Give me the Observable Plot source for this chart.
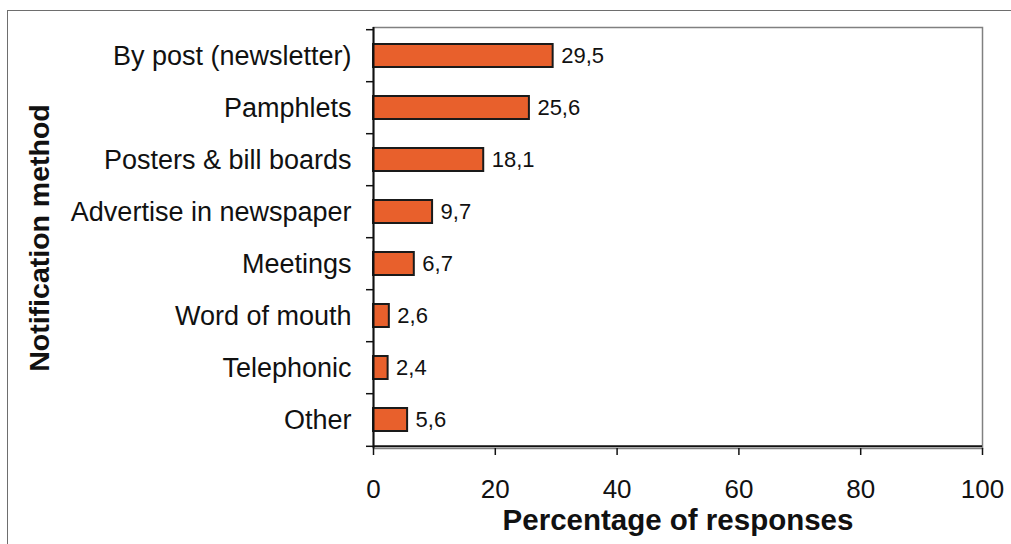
<!DOCTYPE html>
<html>
<head>
<meta charset="utf-8">
<script src="https://cdn.jsdelivr.net/npm/d3@7"></script>
<script src="https://cdn.jsdelivr.net/npm/@observablehq/plot@0.6"></script>
<style>
  html, body { margin: 0; padding: 0; background: #fff; overflow: hidden; }
  #wrap { position: relative; width: 1011px; height: 544px; }
  #border { position: absolute; left: 7px; top: 10px; width: 1100px; height: 600px;
            border: 1.5px solid #6e6e6e; box-sizing: border-box; pointer-events: none; }
  #chart { position: absolute; left: 0; top: 0; }
  svg { font-family: "Liberation Sans", Arial, sans-serif; }
  g[aria-label="x-axis label"] text { font-weight: bold; font-size: 29.5px; }
  g[aria-label="y-axis label"] text { font-weight: bold; font-size: 28.5px; }
</style>
</head>
<body>
<div id="wrap"><div id="border"></div><div id="chart"></div></div>
<script>
// Notification methods and share of responses (%)
const methods = [
  "By post (newsletter)",
  "Pamphlets",
  "Posters & bill boards",
  "Advertise in newspaper",
  "Meetings",
  "Word of mouth",
  "Telephonic",
  "Other"
];
const percentages = [29.5, 25.6, 18.1, 9.7, 6.7, 2.6, 2.4, 5.6];
const xTicks = [0, 20, 40, 60, 80, 100];

const data = methods.map((m, i) => ({method: m, pct: percentages[i]}));

const W = 1011, H = 544;
const mL = 373, mR = 29, mT = 27, mB = 96;
const step = (H - mT - mB) / methods.length;

const chart = Plot.plot({
  width: W,
  height: H,
  marginLeft: mL,
  marginRight: mR,
  marginTop: mT,
  marginBottom: mB,
  style: {fontSize: "27px", color: "#111", background: "transparent"},
  x: {domain: [0, 100]},
  y: {domain: methods, paddingInner: 0.56, paddingOuter: 0.28},
  marks: [
    Plot.frame({stroke: "#808080", strokeWidth: 1.5}),
    Plot.barX(data, {x: "pct", y: "method", fill: "#e8602c", stroke: "#1a1a1a", strokeWidth: 2}),
    Plot.text(data, {x: "pct", y: "method", text: d => String(d.pct).replace(".", ","),
      textAnchor: "start", dx: 8, fontSize: 22, fill: "#111"}),
    // short ticks on the boundaries between categories
    Plot.axisY({tickSize: 7, text: null, label: null, dy: -step / 2, strokeWidth: 1.5}),
    Plot.axisY({ticks: methods.slice(-1), tickSize: 7, text: null, label: null, dy: step / 2, strokeWidth: 1.5}),
    Plot.axisY({tickSize: 0, tickPadding: 22, fontSize: 27, label: null}),
    Plot.axisY({ticks: [], label: "Notification method", labelAnchor: "center", labelArrow: "none",
      labelOffset: 345, dy: -7}),
    Plot.axisX({ticks: xTicks, tickSize: 7, tickPadding: 24, fontSize: 26, label: "Percentage of responses",
      labelAnchor: "center", labelArrow: "none", labelOffset: 81, tickFormat: d => String(d), strokeWidth: 1.5}),
    Plot.ruleX([0], {stroke: "#111", strokeWidth: 2}),
    Plot.ruleY(methods.slice(-1), {y: d => d, dy: step / 2, stroke: "#111", strokeWidth: 2})
  ]
});
document.getElementById("chart").appendChild(chart);
</script>
</body>
</html>
